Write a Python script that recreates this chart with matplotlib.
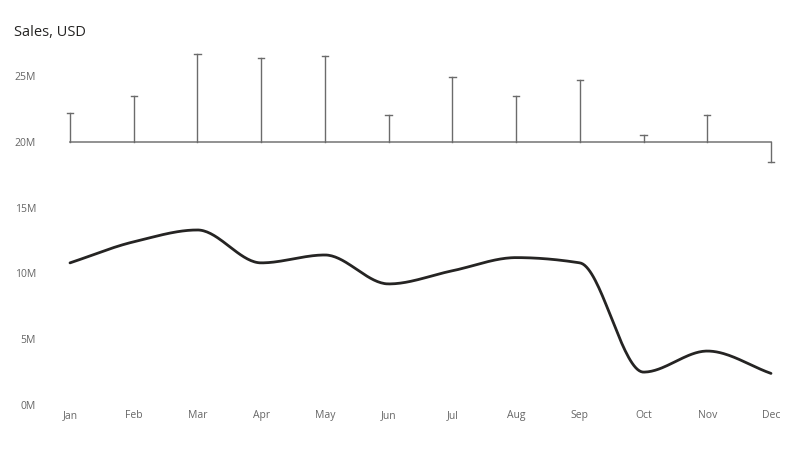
import numpy as np
import matplotlib
matplotlib.use("Agg")
import matplotlib.pyplot as plt

# data (millions USD)
months = ["Jan", "Feb", "Mar", "Apr", "May", "Jun",
          "Jul", "Aug", "Sep", "Oct", "Nov", "Dec"]
sales = [10.8, 12.4, 13.3, 10.8, 11.4, 9.2, 10.2, 11.2, 10.8, 2.5, 4.1, 2.4]
variance_top = [22.2, 23.5, 26.7, 26.4, 26.5, 22.0, 24.9, 23.5, 24.7, 20.5, 22.0, 18.5]
variance_base = 20.0
yticks = [0, 5, 10, 15, 20, 25]


def pchip(x, y, xs):
    # monotone cubic (Fritsch-Carlson), only used to draw a smooth line
    x = np.asarray(x, float)
    y = np.asarray(y, float)
    h = np.diff(x)
    d = np.diff(y) / h
    m = np.zeros_like(y)
    for k in range(1, len(y) - 1):
        if d[k - 1] * d[k] > 0:
            w1 = 2 * h[k] + h[k - 1]
            w2 = h[k] + 2 * h[k - 1]
            m[k] = (w1 + w2) / (w1 / d[k - 1] + w2 / d[k])
    m[0] = d[0]
    m[-1] = d[-1]
    out = np.empty_like(xs)
    for i, xv in enumerate(xs):
        k = min(np.searchsorted(x, xv, side="right") - 1, len(x) - 2)
        t = (xv - x[k]) / h[k]
        h00 = 2 * t**3 - 3 * t**2 + 1
        h10 = t**3 - 2 * t**2 + t
        h01 = -2 * t**3 + 3 * t**2
        h11 = t**3 - t**2
        out[i] = h00 * y[k] + h10 * h[k] * m[k] + h01 * y[k + 1] + h11 * h[k] * m[k + 1]
    return out


plt.rcParams['font.family'] = ['Open Sans', 'DejaVu Sans']

W, H = 800, 451
fig = plt.figure(figsize=(W / 100, H / 100), dpi=100)
ax = fig.add_axes([70 / W, (H - 405) / H, 701 / W, 329 / H])

x = np.arange(len(months))
xs = np.linspace(0, len(months) - 1, 400)
ax.plot(xs, pchip(x, sales, xs), color="#252423", lw=2.0, solid_capstyle="round", clip_on=False)

# variance whiskers around the 20M base
ax.plot([0, len(months) - 1], [variance_base, variance_base], color="#7f7f7f", lw=1.2, clip_on=False)
for i, top in enumerate(variance_top):
    ax.plot([i, i], [variance_base, top], color="#6b6b6b", lw=1.0, clip_on=False)
    ax.plot([i - 0.05, i + 0.05], [top, top], color="#6b6b6b", lw=1.0, clip_on=False)

ax.set_xlim(0, len(months) - 1)
ax.set_ylim(0, 25)
ax.set_xticks(x)
ax.set_xticklabels(months)
ax.set_yticks(yticks)
ax.set_yticklabels([f"{v}M" for v in yticks])
ax.tick_params(axis="both", length=0, labelsize=7.5, labelcolor="#666666")
ax.tick_params(axis="y", pad=24.5)
ax.tick_params(axis="x", pad=3.5)
for s in ax.spines.values():
    s.set_visible(False)

fig.text(14 / W, 1 - 32 / H, "Sales, USD", fontsize=10.5, color="#252423", va="center", ha="left")

fig.savefig("out.png", dpi=100)
